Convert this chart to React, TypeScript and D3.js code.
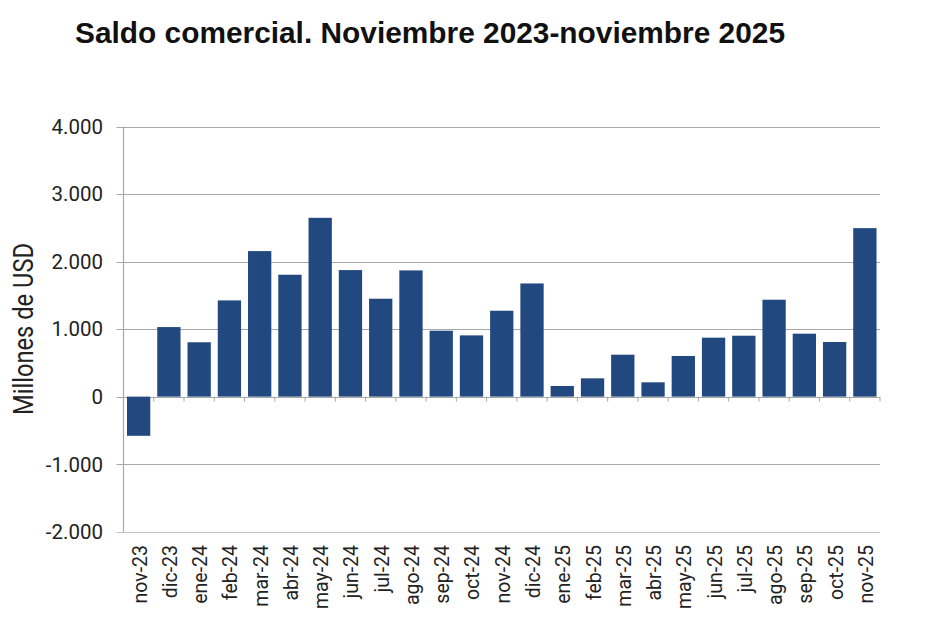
import React, { useEffect, useRef } from 'react';
import * as d3 from 'd3';

const months = [
  'nov-23', 'dic-23', 'ene-24', 'feb-24', 'mar-24', 'abr-24', 'may-24', 'jun-24',
  'jul-24', 'ago-24', 'sep-24', 'oct-24', 'nov-24', 'dic-24', 'ene-25', 'feb-25',
  'mar-25', 'abr-25', 'may-25', 'jun-25', 'jul-25', 'ago-25', 'sep-25', 'oct-25', 'nov-25'
];

// saldo comercial, millones de USD
const saldo = [
  -580, 1030, 805, 1425, 2155, 1805, 2648, 1874,
  1450, 1869, 976, 907, 1272, 1676, 158, 271,
  621, 212, 602, 873, 902, 1435, 932, 809, 2495
];

const yTicks = [-2000, -1000, 0, 1000, 2000, 3000, 4000];

const title = 'Saldo comercial. Noviembre 2023-noviembre 2025';
const yTitle = 'Millones de USD';

const narrow = 'Roboto, Arial, sans-serif';

const App: React.FC = () => {
  const svgRef = useRef<SVGSVGElement>(null);

  useEffect(() => {
    if (!svgRef.current) return;
    const svg = d3.select(svgRef.current);
    svg.selectAll('*').remove();

    const left = 123.5;
    const right = 880;
    const top = 126.5;
    const bottom = 531.7;

    const x = d3.scaleBand<string>()
      .domain(months)
      .range([left, right])
      .paddingInner(0.23)
      .paddingOuter(0.115);

    const y = d3.scaleLinear()
      .domain([-2000, 4000])
      .range([bottom, top]);

    // 4000 -> 4.000
    const fmt = (v: number) => d3.format(',')(v).replace(/,/g, '.').replace('−', '-');

    // gridlines + outward ticks
    svg.append('g')
      .selectAll('line')
      .data(yTicks)
      .join('line')
      .attr('x1', left - 7)
      .attr('x2', right)
      .attr('y1', d => Math.round(y(d)) + 0.5)
      .attr('y2', d => Math.round(y(d)) + 0.5)
      .attr('stroke', d => (d === -2000 ? '#c4c4c4' : '#a8a8a8'))
      .attr('stroke-width', 1.2);

    // y tick labels
    svg.append('g')
      .selectAll('text')
      .data(yTicks)
      .join('text')
      .attr('x', 103)
      .attr('y', d => y(d))
      .attr('dy', '0.36em')
      .attr('text-anchor', 'end')
      .attr('font-family', narrow)
      .attr('font-size', 20.5)
      .attr('fill', '#222')
      .text(d => fmt(d));

    // bars
    svg.append('g')
      .selectAll('rect')
      .data(saldo)
      .join('rect')
      .attr('x', (d, i) => x(months[i])!)
      .attr('width', x.bandwidth())
      .attr('y', d => y(Math.max(0, d)))
      .attr('height', d => Math.abs(y(d) - y(0)))
      .attr('fill', '#21497f');

    // y axis line
    svg.append('line')
      .attr('x1', left)
      .attr('x2', left)
      .attr('y1', top)
      .attr('y2', bottom)
      .attr('stroke', '#a8a8a8')
      .attr('stroke-width', 1.2);

    // category ticks on zero line
    const step = x.step();
    const boundaries = d3.range(months.length + 1).map(i => x(months[0])! - x.paddingOuter() * step + i * step);
    svg.append('g')
      .selectAll('line')
      .data(boundaries)
      .join('line')
      .attr('x1', d => d)
      .attr('x2', d => d)
      .attr('y1', y(0))
      .attr('y2', y(0) + 5)
      .attr('stroke', '#a8a8a8')
      .attr('stroke-width', 1);

    // x labels rotated
    svg.append('g')
      .selectAll('text')
      .data(months)
      .join('text')
      .attr('transform', d => `translate(${x(d)! + x.bandwidth() / 2 + 8},545) rotate(-90)`)
      .attr('text-anchor', 'end')
      .attr('font-family', narrow)
      .attr('font-size', 19.5)
      .attr('fill', '#222')
      .text(d => d);

    // y axis title
    svg.append('text')
      .attr('transform', 'translate(33,329) rotate(-90)')
      .attr('text-anchor', 'middle')
      .attr('font-family', narrow)
      .attr('font-size', 28)
      .attr('textLength', 172)
      .attr('lengthAdjust', 'spacingAndGlyphs')
      .attr('fill', '#222')
      .text(yTitle);

    // title
    svg.append('text')
      .attr('x', 75)
      .attr('y', 43)
      .attr('font-family', 'Arial, "Liberation Sans", sans-serif')
      .attr('font-weight', 'bold')
      .attr('font-size', 29)
      .attr('textLength', 710)
      .attr('lengthAdjust', 'spacingAndGlyphs')
      .attr('fill', '#111')
      .text(title);
  }, []);

  return (
    <svg
      ref={svgRef}
      width={930}
      height={640}
      style={{ position: 'absolute', left: 0, top: 0, background: '#fff' }}
    />
  );
};

export default App;
